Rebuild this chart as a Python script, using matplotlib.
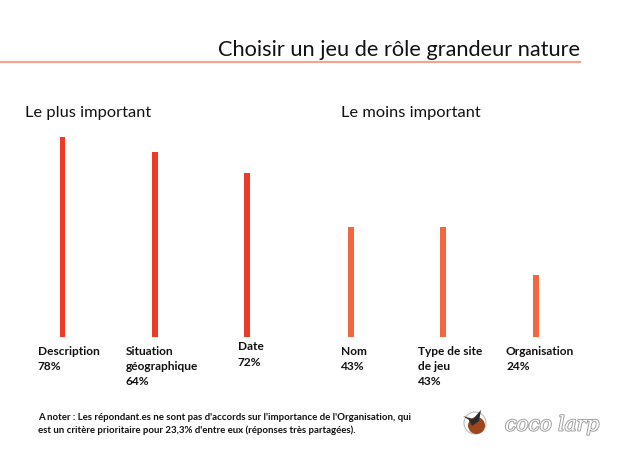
import matplotlib
matplotlib.use("Agg")
import matplotlib.pyplot as plt
from matplotlib.patches import Circle, Polygon
import matplotlib.patheffects as pe

W, H = 620, 465

# ---- data ----
title = "Choisir un jeu de rôle grandeur nature"
group_titles = ["Le plus important", "Le moins important"]
categories = ["Description", "Situation\ngéographique", "Date",
              "Nom", "Type de site\nde jeu", "Organisation"]
bar_values = [78, 72, 64, 43, 43, 24]
pct_labels = ["78%", "64%", "72%", "43%", "43%", "24%"]
groups = [0, 0, 0, 1, 1, 1]
note = ("A noter : Les répondant.es ne sont pas d'accords sur l'importance de l'Organisation, qui\n"
        "est un critère prioritaire pour 23,3% d'entre eux (réponses très partagées).")

# ---- layout / style ----
bar_x = [62.5, 155, 247, 351, 443, 536]
label_x = [38, 126, 238, 341, 418, 506]
label_y = [345.5, 345.5, 341.5, 345.5, 345.5, 345.5]
colors = ["#ee3a26", "#f2673d"]
FONT = "Lato"

fig = plt.figure(figsize=(W / 100, H / 100), dpi=100)
fig.patch.set_facecolor("white")


def fx(x):
    return x / W


def fy(y):
    return 1 - y / H


# bars axes: baseline at y=337px, 100% -> 256.4px
base = 337
scale = 200 / 78
ax = fig.add_axes([0, fy(base), 1, 100 * scale / H])
ax.set_xlim(0, W)
ax.set_ylim(0, 100)
ax.axis("off")
ax.bar(bar_x, bar_values, width=5.5,
       color=[colors[g] for g in groups], linewidth=0)

# title and rule
fig.text(fx(580), fy(56), title, ha="right", va="baseline",
         fontsize=15.7, family=FONT, color="#111111")
fig.add_artist(plt.Line2D([0, fx(580)], [fy(61.5), fy(61.5)],
                          color="#f5a393", lw=1.6))

# group titles
fig.text(fx(25), fy(117), group_titles[0], ha="left", va="baseline",
         fontsize=11.8, family=FONT, color="#111111")
fig.text(fx(341), fy(117), group_titles[1], ha="left", va="baseline",
         fontsize=11.8, family=FONT, color="#111111")

# category labels
for name, pct, x, y in zip(categories, pct_labels, label_x, label_y):
    fig.text(fx(x), fy(y), name + "\n" + pct, ha="left", va="top",
             fontsize=8.6, family=FONT, fontweight="bold",
             color="#111111", linespacing=1.45)

# note
fig.text(fx(38), fy(413), note, ha="left", va="top", fontsize=6.9,
         family=FONT, fontweight="bold", color="#111111",
         linespacing=1.45)

# logo
cx, cy = 475, 423
lax = fig.add_axes([0, 0, 1, 1], zorder=5)
lax.set_xlim(0, W)
lax.set_ylim(H, 0)
lax.axis("off")
lax.add_patch(Circle((cx, cy), 11, facecolor="white", edgecolor="#bbbbbb", lw=0.8))
lax.add_patch(Circle((cx + 1.5, cy + 2.5), 8.5, facecolor="#a0461f", edgecolor="none"))
lax.add_patch(Polygon([(cx - 12, cy - 7), (cx - 2, cy - 4), (cx + 6, cy - 13),
                       (cx + 4, cy - 2), (cx - 3, cy + 3), (cx - 6, cy - 3)],
                      closed=True, facecolor="#2b2b2b", edgecolor="none"))
lax.text(cx + 30, cy + 2, "coco larp", ha="left", va="center", fontsize=14.5,
         family="DejaVu Serif", style="italic", color="white",
         path_effects=[pe.withStroke(linewidth=1.4, foreground="#a0a0a0")])

fig.savefig("out.png", dpi=100, facecolor="white")
